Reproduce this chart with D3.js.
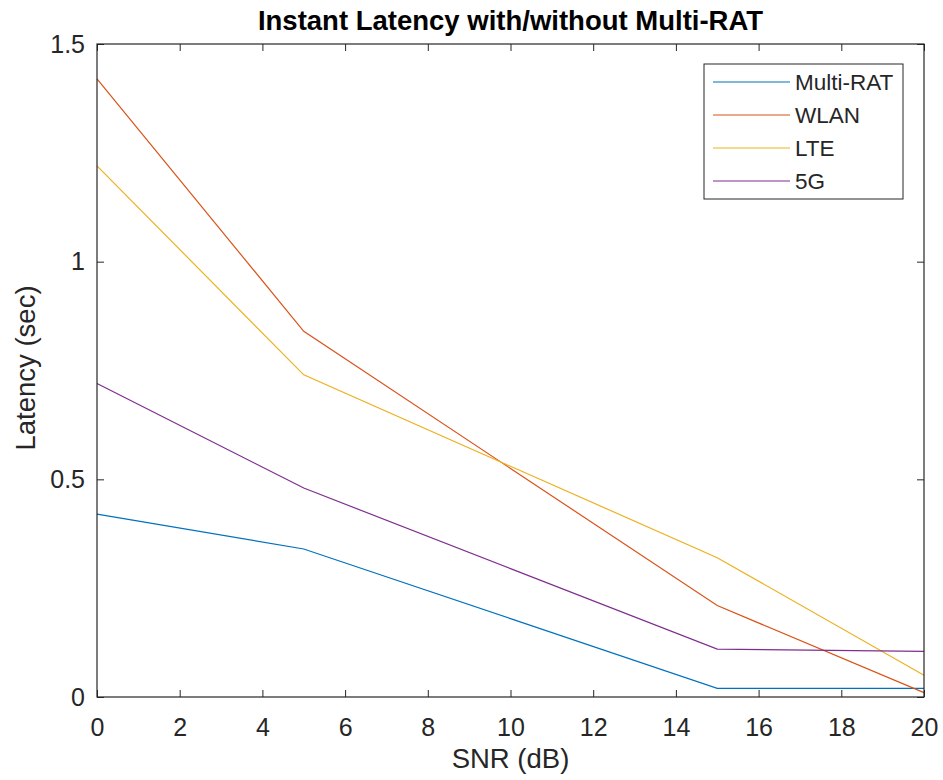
<!DOCTYPE html>
<html>
<head>
<meta charset="utf-8">
<script src="https://cdn.jsdelivr.net/npm/d3@7"></script>
<style>
  body { margin: 0; background: #fff; }
  svg text { font-family: "Liberation Sans", Arial, Helvetica, sans-serif; fill: #262626; }
</style>
</head>
<body>
<svg id="chart" width="943" height="780"></svg>
<script>
// SNR values (dB)
var snr = [0, 5, 10, 15, 20];

// Latency per technology (sec)
var multiRat = [0.42, 0.34, 0.18, 0.02, 0.02];
var wlan     = [1.42, 0.84, 0.525, 0.21, 0.01];
var lte      = [1.22, 0.74, 0.53, 0.32, 0.05];
var fiveG    = [0.72, 0.48, 0.295, 0.11, 0.105];

var seriesNames  = ['Multi-RAT', 'WLAN', 'LTE', '5G'];
var seriesColors = ['#0072BD', '#D95319', '#EDB120', '#7E2F8E'];

var xTicks = [0, 2, 4, 6, 8, 10, 12, 14, 16, 18, 20];
var yTicks = [0, 0.5, 1, 1.5];

// Plot box (note: "top" is a reserved window global, so use plotTop)
var plotLeft = 97, plotRight = 924, plotTop = 44, plotBottom = 697;

var svg = d3.select('#chart');

var x = d3.scaleLinear().domain([0, 20]).range([plotLeft, plotRight]);
var y = d3.scaleLinear().domain([0, 1.5]).range([plotBottom, plotTop]);

// Lines first, box and ticks on top
var series = [multiRat, wlan, lte, fiveG];
var line = d3.line()
    .x(function(d, i) { return x(snr[i]); })
    .y(function(d) { return y(d); });

svg.append('g').selectAll('path')
    .data(series)
  .enter().append('path')
    .attr('d', line)
    .attr('fill', 'none')
    .attr('stroke', function(d, i) { return seriesColors[i]; })
    .attr('stroke-width', 1.2);

// Axes (MATLAB style: inward ticks, full box)
var fmt = function(d) { return d3.format('')(d); };

svg.append('g')
    .attr('transform', 'translate(0,' + plotBottom + ')')
    .call(d3.axisBottom(x).tickValues(xTicks).tickSizeInner(-7).tickSizeOuter(0).tickPadding(21).tickFormat(fmt));

svg.append('g')
    .attr('transform', 'translate(0,' + plotTop + ')')
    .call(d3.axisTop(x).tickValues(xTicks).tickSizeInner(-7).tickSizeOuter(0).tickFormat(''));

svg.append('g')
    .attr('transform', 'translate(' + plotLeft + ',0)')
    .call(d3.axisLeft(y).tickValues(yTicks).tickSizeInner(-7).tickSizeOuter(0).tickPadding(12).tickFormat(fmt));

svg.append('g')
    .attr('transform', 'translate(' + plotRight + ',0)')
    .call(d3.axisRight(y).tickValues(yTicks).tickSizeInner(-7).tickSizeOuter(0).tickFormat(''));

svg.selectAll('.domain').remove();
svg.selectAll('.tick line').attr('stroke', '#262626');
svg.selectAll('.tick text').attr('font-size', 25).style('fill', '#262626');

svg.append('rect')
    .attr('x', plotLeft).attr('y', plotTop)
    .attr('width', plotRight - plotLeft).attr('height', plotBottom - plotTop)
    .attr('fill', 'none')
    .attr('stroke', '#262626')
    .attr('stroke-width', 1.2);

// Title and axis labels
svg.append('text')
    .attr('x', (plotLeft + plotRight) / 2).attr('y', 30)
    .attr('text-anchor', 'middle')
    .attr('font-size', 27.5).attr('font-weight', 'bold')
    .style('fill', '#000')
    .text('Instant Latency with/without Multi-RAT');

svg.append('text')
    .attr('x', (plotLeft + plotRight) / 2).attr('y', 768)
    .attr('text-anchor', 'middle')
    .attr('font-size', 27.5)
    .text('SNR (dB)');

svg.append('text')
    .attr('transform', 'translate(35,368) rotate(-90)')
    .attr('text-anchor', 'middle')
    .attr('font-size', 27.5)
    .text('Latency (sec)');

// Legend
var legend = svg.append('g').attr('transform', 'translate(704,64)');
legend.append('rect')
    .attr('width', 199).attr('height', 135)
    .attr('fill', '#fff')
    .attr('stroke', '#262626')
    .attr('stroke-width', 1);

var entry = legend.selectAll('g.entry')
    .data(seriesNames)
  .enter().append('g')
    .attr('class', 'entry')
    .attr('transform', function(d, i) { return 'translate(0,' + (18 + i * 33) + ')'; });

entry.append('line')
    .attr('x1', 9).attr('x2', 86)
    .attr('stroke', function(d, i) { return seriesColors[i]; })
    .attr('stroke-width', 1.2);

entry.append('text')
    .attr('x', 91).attr('y', 8)
    .attr('font-size', 22.5)
    .text(function(d) { return d; });
</script>
</body>
</html>
